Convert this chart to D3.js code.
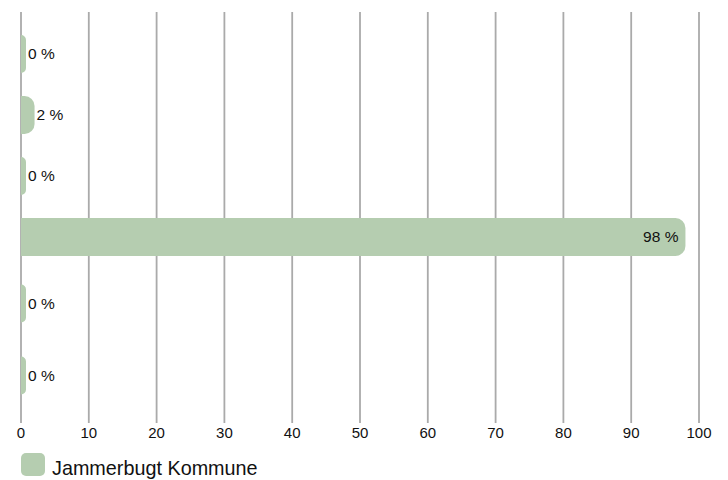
<!DOCTYPE html>
<html><head><meta charset="utf-8">
<script src="https://cdn.jsdelivr.net/npm/d3@7"></script>
<style>body{margin:0;background:#fff;} text{font-family:"Liberation Sans",Arial,sans-serif;}</style>
</head><body><svg id="c" width="728" height="480"></svg>
<script>
const categories = ["A","B","C","D","E","F"];
const values = [0, 2, 0, 98, 0, 0];
const rowWeights = [1, 1, 1, 1, 1.18, 1.18];
const ticks = [0,10,20,30,40,50,60,70,80,90,100];
const seriesName = "Jammerbugt Kommune";
const color = "#b5cdb0";

const svg = d3.select("#c");
const x = d3.scaleLinear().domain([0,100]).range([21,699]);
const cum = [0, ...d3.cumsum(rowWeights)];
const yw = d3.scaleLinear().domain([0, cum[cum.length-1]]).range([23.5, 411.5]);
const barH = 38;

// grid
svg.append("g").selectAll("line").data(ticks).join("line")
  .attr("x1", d=>x(d)).attr("x2", d=>x(d)).attr("y1", 12).attr("y2", 423)
  .attr("stroke", "#aaaaaa").attr("stroke-width", 1.8);

// axis labels
svg.append("g").selectAll("text").data(ticks).join("text")
  .attr("x", d=>x(d)).attr("y", 438).attr("text-anchor","middle")
  .attr("font-size", 15).attr("fill","#111").text(d=>d);

function barPath(x0, x1, y0, h, r){
  const w = x1 - x0;
  const rr = Math.min(r, w, h/2);
  return `M${x0},${y0}H${x1-rr}A${rr},${rr} 0 0 1 ${x1},${y0+rr}V${y0+h-rr}A${rr},${rr} 0 0 1 ${x1-rr},${y0+h}H${x0}Z`;
}

const rows = categories.map((c,i)=>({c, v:values[i], cy:(yw(cum[i])+yw(cum[i+1]))/2}));
const minW = 5;
svg.append("g").selectAll("path").data(rows).join("path")
  .attr("d", d=>barPath(x(0), Math.max(x(d.v), x(0)+minW), d.cy-barH/2, barH, 10))
  .attr("fill", color);

svg.append("g").selectAll("text").data(rows).join("text")
  .attr("x", d=> d.v > 20 ? x(d.v)-7 : Math.max(x(d.v), x(0)+minW)+2)
  .attr("y", d=>d.cy).attr("dy","0.35em")
  .attr("text-anchor", d=> d.v > 20 ? "end" : "start")
  .attr("font-size", 15.5).attr("fill","#111").text(d=>d.v+" %");

// legend
const lg = svg.append("g");
lg.append("rect").attr("x",21).attr("y",453).attr("width",24).attr("height",23).attr("rx",5).attr("fill",color);
lg.append("text").attr("x",52).attr("y",475).attr("font-size",19.8).attr("fill","#111").text(seriesName);
</script></body></html>
